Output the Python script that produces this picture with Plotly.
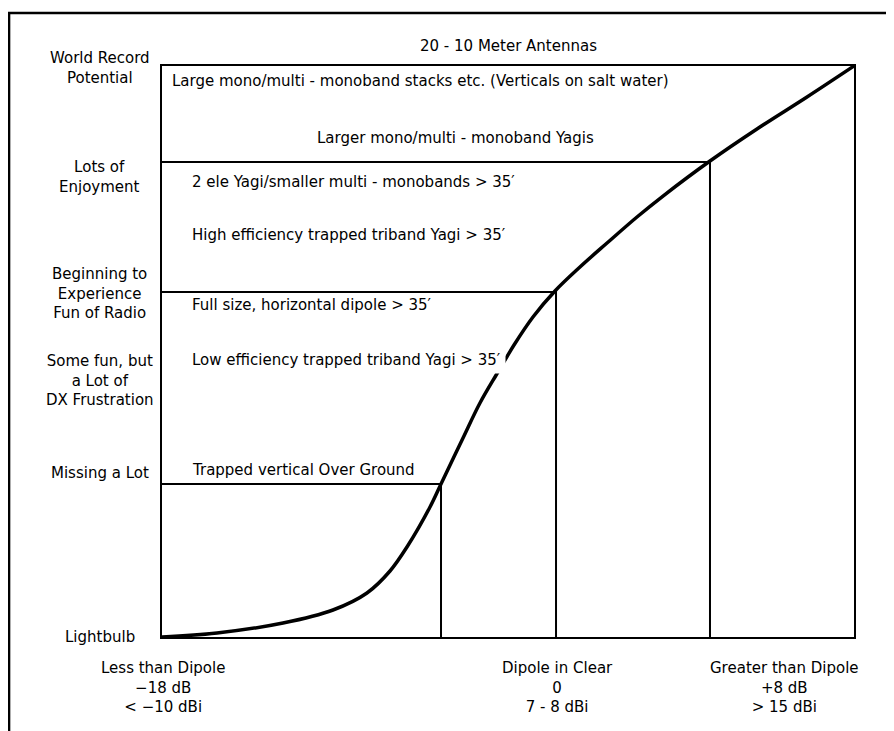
import plotly.graph_objects as go

# ---- data (arbitrary 0-10 performance units) ----
curve_x = [0.0, 0.795, 1.749, 2.471, 2.962, 3.295, 3.540, 3.873, 4.032, 4.350, 4.595,
           4.855, 5.087, 5.361, 5.679, 6.040, 6.431, 6.864, 7.240, 7.919, 8.598, 9.321, 10.0]
curve_y = [0.0, 0.070, 0.245, 0.473, 0.771, 1.156, 1.576, 2.277, 2.680, 3.485, 4.098,
           4.641, 5.114, 5.604, 6.060, 6.480, 6.900, 7.356, 7.723, 8.336, 8.897, 9.457, 10.0]

# tier corners on the curve (vertical + horizontal guide lines)
tier_x = [4.032, 5.694, 7.919]
tier_y = [2.680, 6.042, 8.320]

# left-hand "enjoyment" levels
level_labels = ["World Record<br>Potential", "Lots of<br>Enjoyment",
                "Beginning to<br>Experience<br>Fun of Radio",
                "Some fun, but<br>a Lot of<br>DX Frustration",
                "Missing a Lot", "Lightbulb"]
level_y = [9.97, 8.06, 6.02, 4.50, 2.87, 0.0]

# antenna descriptions inside the chart
antenna_labels = ["Large mono/multi - monoband stacks etc. (Verticals on salt water)",
                  "Larger mono/multi - monoband Yagis",
                  "2 ele Yagi/smaller multi - monobands > 35\u2032",
                  "High efficiency trapped triband Yagi > 35\u2032",
                  "Full size, horizontal dipole > 35\u2032",
                  "Low efficiency trapped triband Yagi > 35\u2032",
                  "Trapped vertical Over Ground"]
antenna_x = [0.12, 2.21, 0.40, 0.40, 0.40, 0.40, 0.40]
antenna_y = [9.74, 8.74, 7.97, 7.04, 5.81, 4.85, 2.92]

# bottom gain categories
gain_labels = ["Less than Dipole<br>\u221218 dB<br>< \u221210 dBi",
               "Dipole in Clear<br>0<br>7 - 8 dBi",
               "Greater than Dipole<br>+8 dB<br>> 15 dBi"]
gain_x = [0.01, 5.71, 8.99]

title_text = "20 - 10 Meter Antennas"

FONT = dict(family="DejaVu Sans", size=15, color="black")

fig = go.Figure()

# guide lines
gx, gy = [], []
for xk, yk in zip(tier_x, tier_y):
    gx += [0, xk, xk, None]
    gy += [yk, yk, 0, None]
fig.add_trace(go.Scatter(x=gx, y=gy, mode="lines",
                         line=dict(color="black", width=2), hoverinfo="skip"))

# curve
fig.add_trace(go.Scatter(x=curve_x, y=curve_y, mode="lines",
                         line=dict(color="black", width=3.5, shape="spline", smoothing=1.0),
                         hoverinfo="skip"))

annotations = []
for t, y in zip(level_labels, level_y):
    annotations.append(dict(text=t, xref="paper", x=-0.0896, yref="y", y=y,
                            xanchor="center", yanchor="middle", showarrow=False,
                            font=FONT, align="center"))
for t, x, y in zip(antenna_labels, antenna_x, antenna_y):
    masked = "Low efficiency" in t
    annotations.append(dict(text=t, xref="x", x=x - (0.045 if masked else 0), yref="y", y=y,
                            xanchor="left", yanchor="middle", showarrow=False,
                            font=FONT, align="left",
                            bgcolor="white" if masked else None,
                            borderpad=4 if masked else 1))
for t, x in zip(gain_labels, gain_x):
    annotations.append(dict(text=t, xref="x", x=x, yref="paper", y=-0.0876,
                            xanchor="center", yanchor="middle", showarrow=False,
                            font=FONT, align="center"))
annotations.append(dict(text=title_text, xref="paper", x=0.5, yref="paper", y=1.035,
                        xanchor="center", yanchor="middle", showarrow=False, font=FONT))

fig.update_layout(
    width=886, height=723,
    margin=dict(l=154, r=40, t=58, b=94),
    paper_bgcolor="white", plot_bgcolor="white",
    showlegend=False, hovermode=False,
    annotations=annotations,
    shapes=[dict(type="rect", xref="paper", yref="paper",
                 x0=-0.221, x1=1.2, y0=-0.3, y1=1.093,
                 line=dict(color="black", width=2.5), layer="above")],
)
axis_common = dict(showgrid=False, zeroline=False, showticklabels=False, ticks="",
                   showline=True, mirror=True, linecolor="black", linewidth=2,
                   fixedrange=True)
fig.update_xaxes(range=[0, 10], **axis_common)
fig.update_yaxes(range=[0, 10], **axis_common)

fig.write_html("out.html", config={"displayModeBar": False})
